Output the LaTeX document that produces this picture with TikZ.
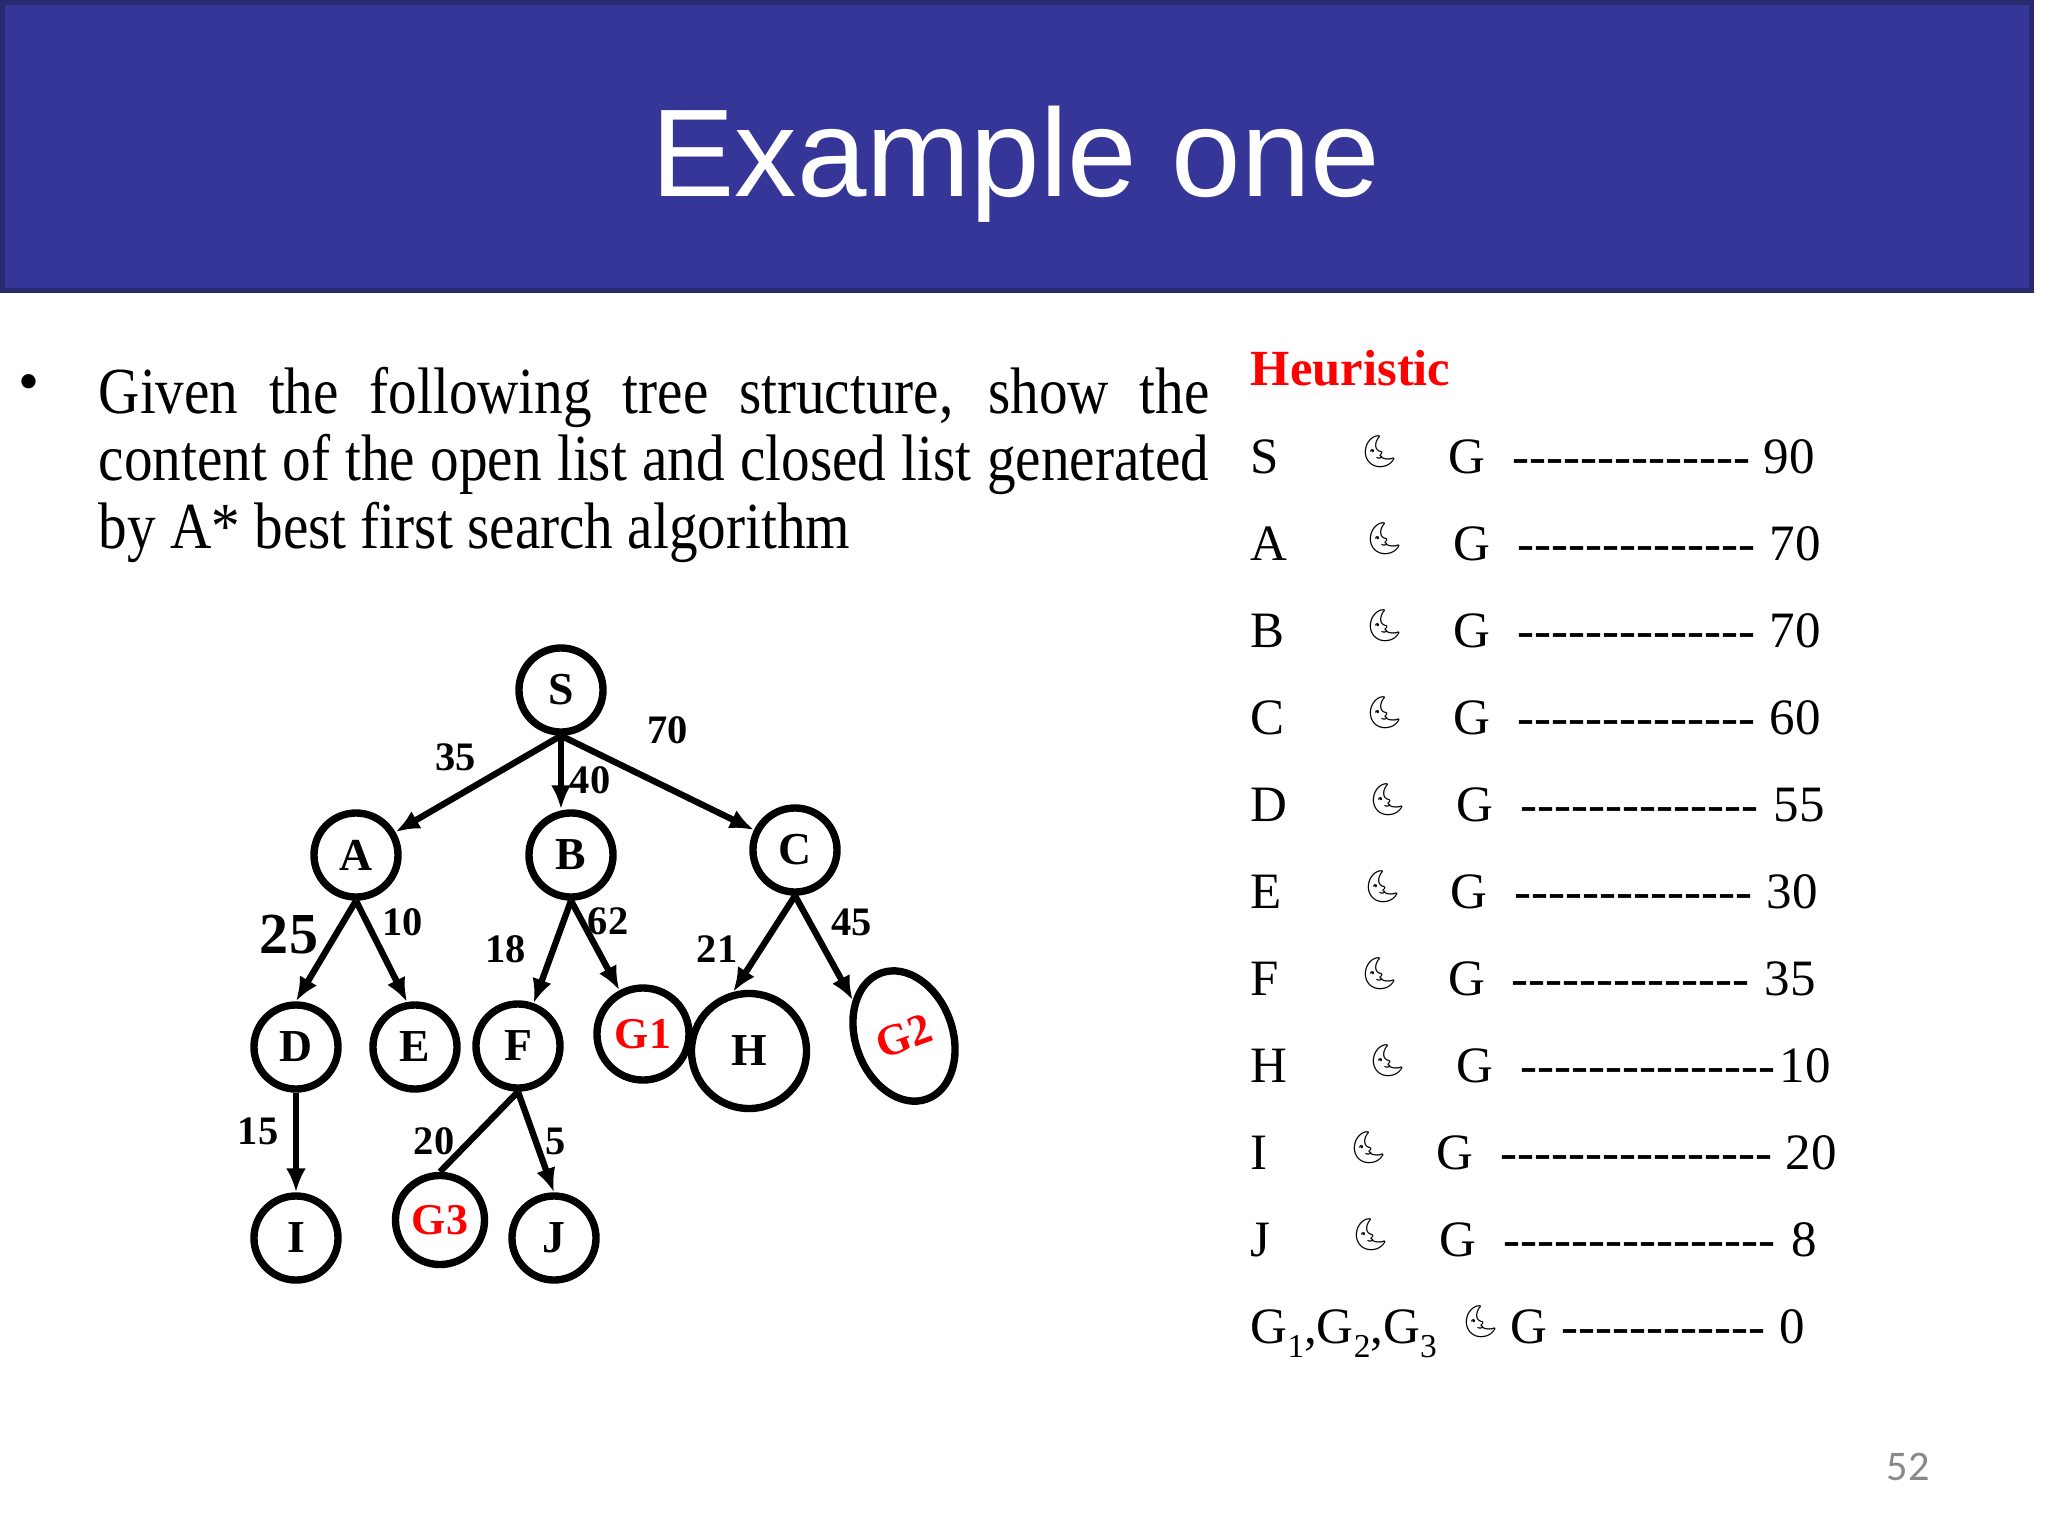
\documentclass[tikz,border=0pt]{standalone}
\usepackage{fontspec}
\setmainfont{Liberation Serif}
\newfontfamily\bodyfont[FakeStretch=0.87]{Liberation Serif}
\newfontfamily\titlefont{Liberation Sans}
\newfontfamily\pagefont{Carlito}
\newfontfamily\moonfont{Noto Emoji}
\usetikzlibrary{arrows.meta, shapes.geometric}
\definecolor{barblue}{RGB}{54,54,152}
\definecolor{barline}{RGB}{42,42,110}
\definecolor{goalred}{RGB}{255,0,0}
\definecolor{pagegray}{RGB}{137,137,137}
\newcommand\hyphrow[1]{\foreach \k in {1,...,#1}{-\kern0pt}}
\newcommand\gsub[1]{G\raisebox{-0.28em}{\fontsize{9.5}{10}\selectfont #1}}

\begin{document}
\begin{tikzpicture}[x=0.01cm, y=-0.01cm,
    tnode/.style={circle, draw, line width=2.1pt, minimum size=0.84cm, inner sep=0pt,
                  font=\bfseries\fontsize{13}{15}\selectfont},
    goal/.style={tnode, text=goalred, font=\bfseries\fontsize{12.5}{14}\selectfont},
    link/.style={line width=1.8pt},
    arr/.style={link, -{Latex[length=0.24cm, width=0.2cm]}},
    lbl/.style={font=\bfseries\fontsize{11.5}{13}\selectfont, inner sep=0pt},
    heur/.style={anchor=base west, inner sep=0pt, font=\fontsize{14.5}{17}\selectfont},
    moon/.style={anchor=west, inner sep=0pt, font=\moonfont\fontsize{9}{10}\selectfont}]
    \useasboundingbox (0,0) rectangle (2048,1536);
    \fill[white] (0,0) rectangle (2048,1536);

    % title bar
    \draw[barline, fill=barblue, line width=0.05cm] (2,2) rectangle (2031,290);
    \node[anchor=base, text=white, font=\titlefont\fontsize{35.5}{40}\selectfont] (title) at (1016,196) {Example one};

    % question text
    \node[font=\fontsize{17}{19}\selectfont] (dot) at (29,388) {\textbullet};
    \node[anchor=north west, inner sep=0pt, text width=11.1cm, align=justify,
          font=\bodyfont\fontsize{18.7}{19.3}\selectfont] (task) at (98,366)
      {\hyphenpenalty=10000 Given the following tree structure, show the\linebreak
       content of the open list and closed list generated\linebreak
       by A* best first search algorithm};

    % heuristic list
    \node[heur, text=goalred, font=\bfseries\fontsize{14.4}{17}\selectfont] (heurtitle) at (1250,385) {Heuristic};
    \foreach \lab/\mx/\gx/\dx/\dn/\vx/\val [count=\i from 0] in {
        S/1359/1448/1512/14/1763/90,
        A/1364/1453/1517/14/1769/70,
        B/1364/1453/1517/14/1769/70,
        C/1364/1453/1517/14/1769/60,
        D/1367/1456/1520/14/1773/55,
        E/1362/1450/1514/14/1766/30,
        F/1359/1448/1511/14/1764/35,
        H/1367/1456/1520/15/1779/10,
        I/1348/1436/1500/16/1785/20,
        J/1350/1439/1503/16/1791/8,
        {\gsub{1},\gsub{2},\gsub{3}}/1460/1510/1561/12/1779/0}
    {
        \pgfmathsetmacro\by{473+87*\i}
        \node[heur] (hn\i) at (1250,\by) {\lab};
        \node[moon] (hm\i) at (\mx,\by-21) {🌜};
        \node[heur] (hg\i) at (\gx,\by) {G};
        \node[heur] (hd\i) at (\dx,\by) {\hyphrow{\dn}};
        \node[heur] (hv\i) at (\vx,\by) {\val};
    }

    % page number
    \node[text=pagegray, font=\pagefont\fontsize{12}{14}\selectfont] (pgno) at (1908,1467) {52};

    % tree
    \node[tnode] (S) at (561,690) {S};
    \node[tnode] (A) at (356,855) {A};
    \node[tnode] (B) at (571,855) {B};
    \node[tnode] (C) at (795,850) {C};
    \node[tnode] (D) at (296,1047) {D};
    \node[tnode] (E) at (415,1047) {E};
    \node[tnode] (F) at (518,1046) {F};
    \node[goal, minimum size=0.92cm] (G1) at (643,1034) {G1};
    \node[tnode, minimum size=1.15cm] (H) at (749,1051) {H};
    \node[goal, ellipse, minimum width=0.97cm, minimum height=1.34cm, rotate=20] (G2) at (904,1036) {G2};
    \node[tnode] (I) at (296,1238) {I};
    \node[goal, minimum size=0.89cm] (G3) at (440,1220) {G3};
    \node[tnode] (J) at (554,1238) {J};

    \draw[arr] (S.south) -- node[lbl, shift={(-23,-27)}] {35} (A);
    \draw[arr] (S.south) -- node[lbl, shift={(29,8)}] {40} (S.south |- B.north);
    \draw[arr] (S.south) -- node[lbl, shift={(10,-53)}] {70} (C);
    \draw[arr] (A.south) -- node[lbl, font=\bfseries\fontsize{16.5}{18}\selectfont, shift={(-37,-16)}] {25} (D.north);
    \draw[arr] (A.south) -- node[lbl, shift={(21,-29)}] {10} (E.100);
    \draw[arr] (B.south) -- node[lbl, shift={(-47,-3)}] {18} (F);
    \draw[arr] (B.south) -- node[lbl, shift={(13,-24)}] {62} (G1);
    \draw[arr] (C.south) -- node[lbl, shift={(-47,5)}] {21} (H.105);
    \draw[arr] (C.south) -- node[lbl, shift={(28,-26)}] {45} (G2.125);
    \draw[arr] (D.south) -- node[lbl, shift={(-38,-11)}] {15} (I);
    \draw[link] (F.south) -- node[lbl, shift={(-45,9)}] {20} (G3.north);
    \draw[arr] (F.south) -- node[lbl, shift={(20,-1)}] {5} (J.north);
\end{tikzpicture}
\end{document}
